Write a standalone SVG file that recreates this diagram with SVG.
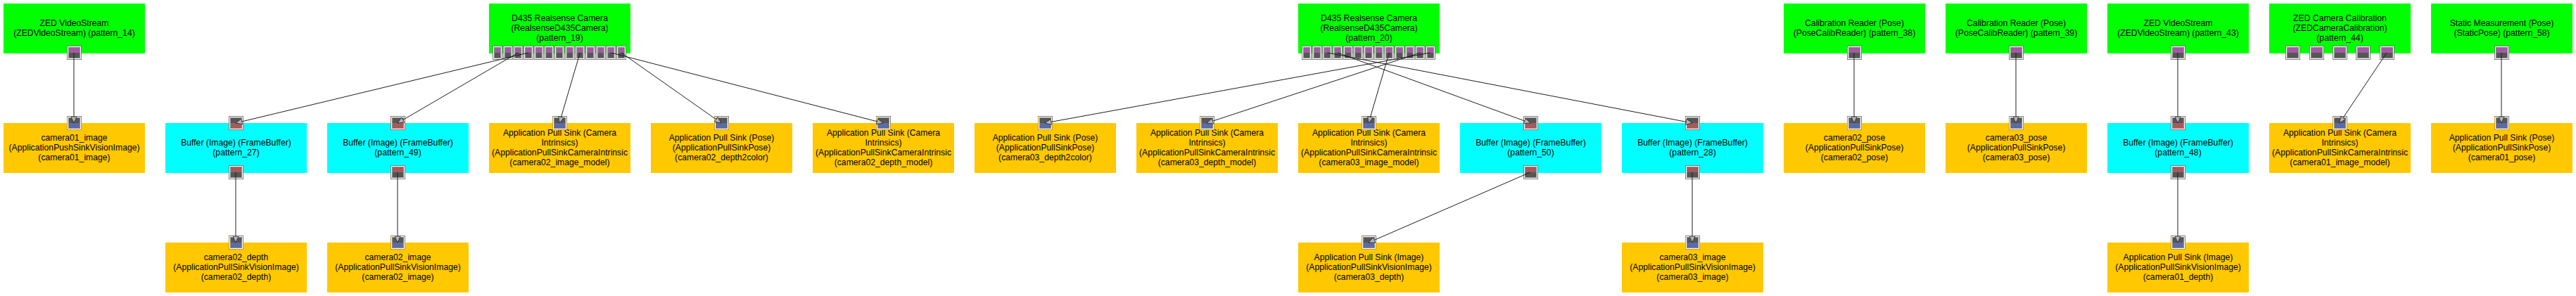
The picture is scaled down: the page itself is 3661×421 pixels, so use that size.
<svg xmlns="http://www.w3.org/2000/svg" width="3661" height="421" viewBox="0 0 3661 421">
<style>
text{font-family:"Liberation Sans",Arial,Helvetica,sans-serif;font-size:12.2px;fill:#000;text-anchor:middle}
.g{fill:#00ff00}.c{fill:#00ffff}.o{fill:#ffc800}
.e{stroke:#1e1e1e;stroke-width:1;fill:none;marker-end:url(#arr)}
.pf{fill:#fff;stroke:#7c7c7c;stroke-width:1}
.pi{fill:none;stroke:#8a8a8a;stroke-width:1}
.pu{fill:#a25ba3}.dk{fill:#565656}.bl{fill:#5b6aa8}.rd{fill:#a55b5b}
</style>
<defs>
<marker id="arr" viewBox="0 0 10 10" refX="10" refY="5" markerWidth="10" markerHeight="9" markerUnits="userSpaceOnUse" orient="auto">
<path d="M0,0.5 L10,5 L0,9.5 Z" fill="#b4b4b4" stroke="#222" stroke-width="0.8"/>
</marker>
<g id="pOut">
<rect class="pf" x="-9.5" y="0.5" width="20" height="19"/>
<rect class="pu" x="-7.5" y="2.5" width="16" height="7.5"/>
<rect class="dk" x="-7.5" y="10" width="16" height="7.5"/>
<rect class="pi" x="-7.5" y="2.5" width="16" height="15"/>
</g>
<g id="pOutN">
<rect class="pf" x="-6.5" y="0.5" width="13" height="19"/>
<rect class="pu" x="-4.5" y="2.5" width="9" height="7.5"/>
<rect class="dk" x="-4.5" y="10" width="9" height="7.5"/>
<rect class="pi" x="-4.5" y="2.5" width="9" height="15"/>
</g>
<g id="pInS">
<rect class="pf" x="-9.5" y="0.5" width="20" height="19"/>
<rect class="dk" x="-7.5" y="2.5" width="16" height="7.5"/>
<rect class="bl" x="-7.5" y="10" width="16" height="7.5"/>
<rect x="-9.5" y="0.5" width="20" height="19" fill="none" stroke="#c89a2a" stroke-width="1" stroke-dasharray="0 29 60"/>
<rect class="pi" x="-7.5" y="2.5" width="16" height="15"/>
</g>
<g id="pInB">
<rect class="pf" x="-9.5" y="0.5" width="20" height="19"/>
<rect class="dk" x="-7.5" y="2.5" width="16" height="7.5"/>
<rect class="rd" x="-7.5" y="10" width="16" height="7.5"/>
<rect x="-9.5" y="0.5" width="20" height="19" fill="none" stroke="#d05a5a" stroke-width="1" stroke-dasharray="0 29 60"/>
<rect class="pi" x="-7.5" y="2.5" width="16" height="15"/>
</g>
<g id="pOutB">
<rect class="pf" x="-9.5" y="0.5" width="20" height="19"/>
<rect class="rd" x="-7.5" y="2.5" width="16" height="7.5"/>
<rect class="dk" x="-7.5" y="10" width="16" height="7.5"/>
<rect class="pi" x="-7.5" y="2.5" width="16" height="15"/>
</g>
</defs>
<rect width="3661" height="421" fill="#fff"/>

<g id="pattern_14">
<rect class="g" x="5" y="5" width="201" height="71"/>
<text x="105.5" y="37">ZED VideoStream</text>
<text x="105.5" y="51">(ZEDVideoStream) (pattern_14)</text>
<use href="#pOut" x="105" y="65"/>
</g>
<g id="camera01_image">
<rect class="o" x="5" y="175" width="201" height="71"/>
<text x="105.5" y="200">camera01_image</text>
<text x="105.5" y="214">(ApplicationPushSinkVisionImage)</text>
<text x="105.5" y="228">(camera01_image)</text>
<use href="#pInS" x="105" y="165"/>
</g>
<g id="pattern_27">
<rect class="c" x="235" y="175" width="201" height="71"/>
<text x="335.5" y="207">Buffer (Image) (FrameBuffer)</text>
<text x="335.5" y="221">(pattern_27)</text>
<use href="#pInB" x="335" y="165"/>
<use href="#pOutB" x="335" y="235"/>
</g>
<g id="camera02_depth">
<rect class="o" x="235" y="345" width="201" height="71"/>
<text x="335.5" y="370">camera02_depth</text>
<text x="335.5" y="384">(ApplicationPullSinkVisionImage)</text>
<text x="335.5" y="398">(camera02_depth)</text>
<use href="#pInS" x="335" y="335"/>
</g>
<g id="pattern_49">
<rect class="c" x="465" y="175" width="201" height="71"/>
<text x="565.5" y="207">Buffer (Image) (FrameBuffer)</text>
<text x="565.5" y="221">(pattern_49)</text>
<use href="#pInB" x="565" y="165"/>
<use href="#pOutB" x="565" y="235"/>
</g>
<g id="camera02_image">
<rect class="o" x="465" y="345" width="201" height="71"/>
<text x="565.5" y="370">camera02_image</text>
<text x="565.5" y="384">(ApplicationPullSinkVisionImage)</text>
<text x="565.5" y="398">(camera02_image)</text>
<use href="#pInS" x="565" y="335"/>
</g>
<g id="pattern_19">
<rect class="g" x="695" y="5" width="201" height="71"/>
<text x="795.5" y="30">D435 Realsense Camera</text>
<text x="795.5" y="44">(RealsenseD435Camera)</text>
<text x="795.5" y="58">(pattern_19)</text>
<use href="#pOutN" x="707" y="65"/>
<use href="#pOutN" x="721.7" y="65"/>
<use href="#pOutN" x="736.3" y="65"/>
<use href="#pOutN" x="751" y="65"/>
<use href="#pOutN" x="765.7" y="65"/>
<use href="#pOutN" x="780.3" y="65"/>
<use href="#pOutN" x="795" y="65"/>
<use href="#pOutN" x="809.7" y="65"/>
<use href="#pOutN" x="824.3" y="65"/>
<use href="#pOutN" x="839" y="65"/>
<use href="#pOutN" x="853.7" y="65"/>
<use href="#pOutN" x="868.3" y="65"/>
<use href="#pOutN" x="883" y="65"/>
</g>
<g id="camera02_image_model">
<rect class="o" x="695" y="175" width="201" height="71"/>
<text x="795.5" y="193">Application Pull Sink (Camera</text>
<text x="795.5" y="207">Intrinsics)</text>
<text x="795.5" y="221">(ApplicationPullSinkCameraIntrinsic</text>
<text x="795.5" y="235">(camera02_image_model)</text>
<use href="#pInS" x="795" y="165"/>
</g>
<g id="camera02_depth2color">
<rect class="o" x="925" y="175" width="201" height="71"/>
<text x="1025.5" y="200">Application Pull Sink (Pose)</text>
<text x="1025.5" y="214">(ApplicationPullSinkPose)</text>
<text x="1025.5" y="228">(camera02_depth2color)</text>
<use href="#pInS" x="1025" y="165"/>
</g>
<g id="camera02_depth_model">
<rect class="o" x="1155" y="175" width="201" height="71"/>
<text x="1255.5" y="193">Application Pull Sink (Camera</text>
<text x="1255.5" y="207">Intrinsics)</text>
<text x="1255.5" y="221">(ApplicationPullSinkCameraIntrinsic</text>
<text x="1255.5" y="235">(camera02_depth_model)</text>
<use href="#pInS" x="1255" y="165"/>
</g>
<g id="camera03_depth2color">
<rect class="o" x="1385" y="175" width="201" height="71"/>
<text x="1485.5" y="200">Application Pull Sink (Pose)</text>
<text x="1485.5" y="214">(ApplicationPullSinkPose)</text>
<text x="1485.5" y="228">(camera03_depth2color)</text>
<use href="#pInS" x="1485" y="165"/>
</g>
<g id="camera03_depth_model">
<rect class="o" x="1615" y="175" width="201" height="71"/>
<text x="1715.5" y="193">Application Pull Sink (Camera</text>
<text x="1715.5" y="207">Intrinsics)</text>
<text x="1715.5" y="221">(ApplicationPullSinkCameraIntrinsic</text>
<text x="1715.5" y="235">(camera03_depth_model)</text>
<use href="#pInS" x="1715" y="165"/>
</g>
<g id="pattern_20">
<rect class="g" x="1845" y="5" width="201" height="71"/>
<text x="1945.5" y="30">D435 Realsense Camera</text>
<text x="1945.5" y="44">(RealsenseD435Camera)</text>
<text x="1945.5" y="58">(pattern_20)</text>
<use href="#pOutN" x="1857" y="65"/>
<use href="#pOutN" x="1871.7" y="65"/>
<use href="#pOutN" x="1886.3" y="65"/>
<use href="#pOutN" x="1901" y="65"/>
<use href="#pOutN" x="1915.7" y="65"/>
<use href="#pOutN" x="1930.3" y="65"/>
<use href="#pOutN" x="1945" y="65"/>
<use href="#pOutN" x="1959.7" y="65"/>
<use href="#pOutN" x="1974.3" y="65"/>
<use href="#pOutN" x="1989" y="65"/>
<use href="#pOutN" x="2003.7" y="65"/>
<use href="#pOutN" x="2018.3" y="65"/>
<use href="#pOutN" x="2033" y="65"/>
</g>
<g id="camera03_image_model">
<rect class="o" x="1845" y="175" width="201" height="71"/>
<text x="1945.5" y="193">Application Pull Sink (Camera</text>
<text x="1945.5" y="207">Intrinsics)</text>
<text x="1945.5" y="221">(ApplicationPullSinkCameraIntrinsic</text>
<text x="1945.5" y="235">(camera03_image_model)</text>
<use href="#pInS" x="1945" y="165"/>
</g>
<g id="camera03_depth">
<rect class="o" x="1845" y="345" width="201" height="71"/>
<text x="1945.5" y="370">Application Pull Sink (Image)</text>
<text x="1945.5" y="384">(ApplicationPullSinkVisionImage)</text>
<text x="1945.5" y="398">(camera03_depth)</text>
<use href="#pInS" x="1945" y="335"/>
</g>
<g id="pattern_50">
<rect class="c" x="2075" y="175" width="201" height="71"/>
<text x="2175.5" y="207">Buffer (Image) (FrameBuffer)</text>
<text x="2175.5" y="221">(pattern_50)</text>
<use href="#pInB" x="2175" y="165"/>
<use href="#pOutB" x="2175" y="235"/>
</g>
<g id="pattern_28">
<rect class="c" x="2305" y="175" width="201" height="71"/>
<text x="2405.5" y="207">Buffer (Image) (FrameBuffer)</text>
<text x="2405.5" y="221">(pattern_28)</text>
<use href="#pInB" x="2405" y="165"/>
<use href="#pOutB" x="2405" y="235"/>
</g>
<g id="camera03_image">
<rect class="o" x="2305" y="345" width="201" height="71"/>
<text x="2405.5" y="370">camera03_image</text>
<text x="2405.5" y="384">(ApplicationPullSinkVisionImage)</text>
<text x="2405.5" y="398">(camera03_image)</text>
<use href="#pInS" x="2405" y="335"/>
</g>
<g id="pattern_38">
<rect class="g" x="2535" y="5" width="201" height="71"/>
<text x="2635.5" y="37">Calibration Reader (Pose)</text>
<text x="2635.5" y="51">(PoseCalibReader) (pattern_38)</text>
<use href="#pOut" x="2635" y="65"/>
</g>
<g id="camera02_pose">
<rect class="o" x="2535" y="175" width="201" height="71"/>
<text x="2635.5" y="200">camera02_pose</text>
<text x="2635.5" y="214">(ApplicationPullSinkPose)</text>
<text x="2635.5" y="228">(camera02_pose)</text>
<use href="#pInS" x="2635" y="165"/>
</g>
<g id="pattern_39">
<rect class="g" x="2765" y="5" width="201" height="71"/>
<text x="2865.5" y="37">Calibration Reader (Pose)</text>
<text x="2865.5" y="51">(PoseCalibReader) (pattern_39)</text>
<use href="#pOut" x="2865" y="65"/>
</g>
<g id="camera03_pose">
<rect class="o" x="2765" y="175" width="201" height="71"/>
<text x="2865.5" y="200">camera03_pose</text>
<text x="2865.5" y="214">(ApplicationPullSinkPose)</text>
<text x="2865.5" y="228">(camera03_pose)</text>
<use href="#pInS" x="2865" y="165"/>
</g>
<g id="pattern_43">
<rect class="g" x="2995" y="5" width="201" height="71"/>
<text x="3095.5" y="37">ZED VideoStream</text>
<text x="3095.5" y="51">(ZEDVideoStream) (pattern_43)</text>
<use href="#pOut" x="3095" y="65"/>
</g>
<g id="pattern_48">
<rect class="c" x="2995" y="175" width="201" height="71"/>
<text x="3095.5" y="207">Buffer (Image) (FrameBuffer)</text>
<text x="3095.5" y="221">(pattern_48)</text>
<use href="#pInB" x="3095" y="165"/>
<use href="#pOutB" x="3095" y="235"/>
</g>
<g id="camera01_depth">
<rect class="o" x="2995" y="345" width="201" height="71"/>
<text x="3095.5" y="370">Application Pull Sink (Image)</text>
<text x="3095.5" y="384">(ApplicationPullSinkVisionImage)</text>
<text x="3095.5" y="398">(camera01_depth)</text>
<use href="#pInS" x="3095" y="335"/>
</g>
<g id="pattern_44">
<rect class="g" x="3225" y="5" width="201" height="71"/>
<text x="3325.5" y="30">ZED Camera Calibration</text>
<text x="3325.5" y="44">(ZEDCameraCalibration)</text>
<text x="3325.5" y="58">(pattern_44)</text>
<use href="#pOut" x="3258" y="65"/>
<use href="#pOut" x="3292" y="65"/>
<use href="#pOut" x="3325" y="65"/>
<use href="#pOut" x="3358" y="65"/>
<use href="#pOut" x="3392" y="65"/>
</g>
<g id="camera01_image_model">
<rect class="o" x="3225" y="175" width="201" height="71"/>
<text x="3325.5" y="193">Application Pull Sink (Camera</text>
<text x="3325.5" y="207">Intrinsics)</text>
<text x="3325.5" y="221">(ApplicationPullSinkCameraIntrinsic</text>
<text x="3325.5" y="235">(camera01_image_model)</text>
<use href="#pInS" x="3325" y="165"/>
</g>
<g id="pattern_58">
<rect class="g" x="3455" y="5" width="201" height="71"/>
<text x="3555.5" y="37">Static Measurement (Pose)</text>
<text x="3555.5" y="51">(StaticPose) (pattern_58)</text>
<use href="#pOut" x="3555" y="65"/>
</g>
<g id="camera01_pose">
<rect class="o" x="3455" y="175" width="201" height="71"/>
<text x="3555.5" y="200">Application Pull Sink (Pose)</text>
<text x="3555.5" y="214">(ApplicationPullSinkPose)</text>
<text x="3555.5" y="228">(camera01_pose)</text>
<use href="#pInS" x="3555" y="165"/>
</g>

<g id="connectors">
<line class="e" x1="105" y1="75" x2="105" y2="175"/>
<line class="e" x1="335" y1="245" x2="335" y2="345"/>
<line class="e" x1="565" y1="245" x2="565" y2="345"/>
<line class="e" x1="751" y1="75" x2="335" y2="175"/>
<line class="e" x1="736.3" y1="75" x2="565" y2="175"/>
<line class="e" x1="824.3" y1="75" x2="795" y2="175"/>
<line class="e" x1="883" y1="75" x2="1025" y2="175"/>
<line class="e" x1="868.3" y1="75" x2="1255" y2="175"/>
<line class="e" x1="2033" y1="75" x2="1485" y2="175"/>
<line class="e" x1="2018.3" y1="75" x2="1715" y2="175"/>
<line class="e" x1="1974.3" y1="75" x2="1945" y2="175"/>
<line class="e" x1="1901" y1="75" x2="2175" y2="175"/>
<line class="e" x1="1886.3" y1="75" x2="2405" y2="175"/>
<line class="e" x1="2175" y1="245" x2="1945" y2="345"/>
<line class="e" x1="2405" y1="245" x2="2405" y2="345"/>
<line class="e" x1="2635" y1="75" x2="2635" y2="175"/>
<line class="e" x1="2865" y1="75" x2="2865" y2="175"/>
<line class="e" x1="3095" y1="75" x2="3095" y2="175"/>
<line class="e" x1="3095" y1="245" x2="3095" y2="345"/>
<line class="e" x1="3392" y1="75" x2="3325" y2="175"/>
<line class="e" x1="3555" y1="75" x2="3555" y2="175"/>
</g>
</svg>
